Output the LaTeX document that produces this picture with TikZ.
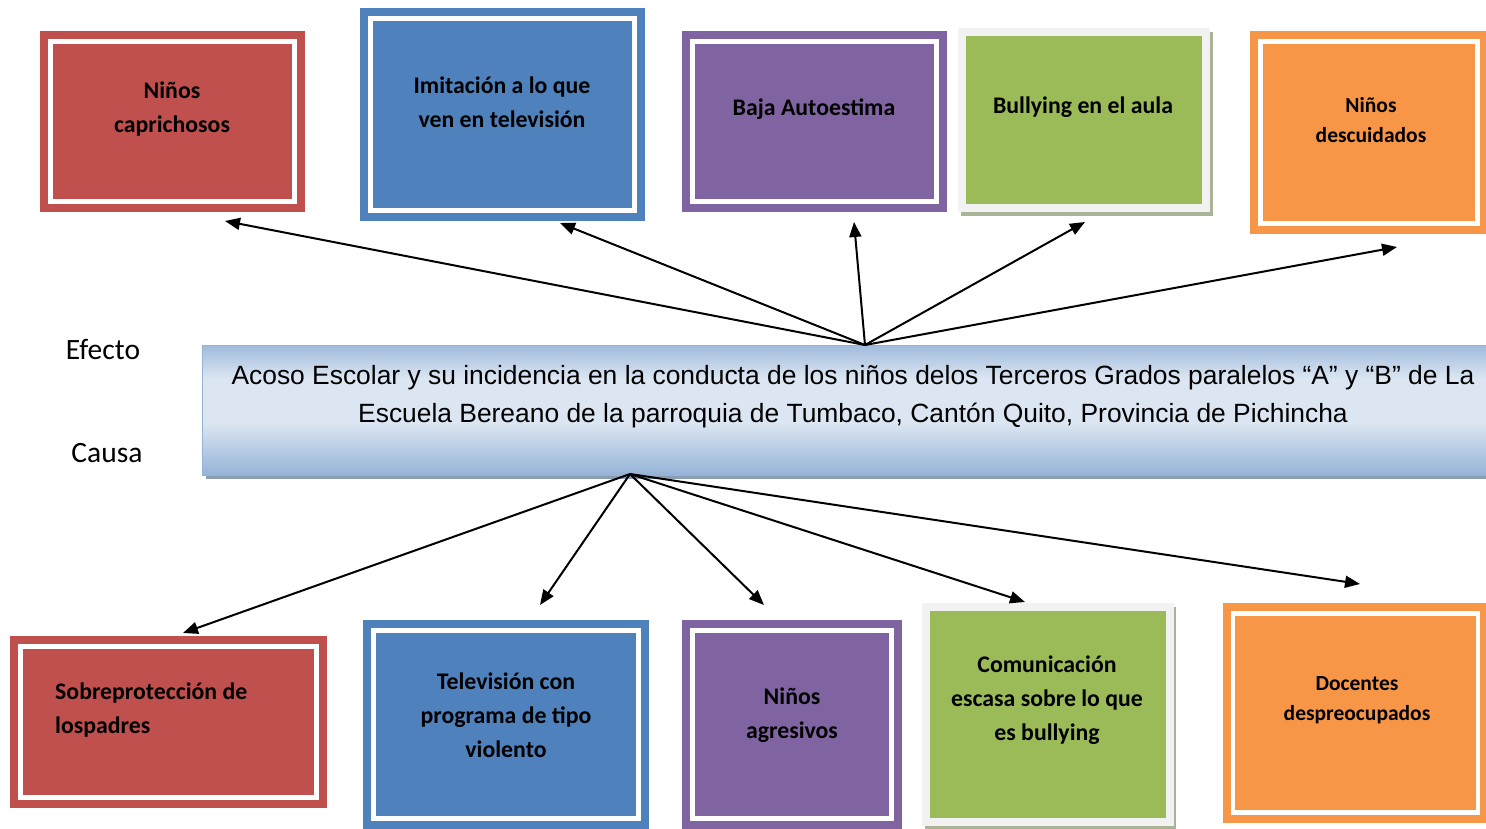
\documentclass[tikz,border=0pt]{standalone}
\usepackage{fontspec}
\setmainfont{Carlito}
\newfontfamily\arialf{Liberation Sans}
\usetikzlibrary{arrows.meta,calc}
\definecolor{cRed}{HTML}{C0504D}
\definecolor{cBlue}{HTML}{4F81BD}
\definecolor{cPurple}{HTML}{8064A2}
\definecolor{cGreen}{HTML}{9BBB59}
\definecolor{cOrange}{HTML}{F79646}
\definecolor{cGrayBand}{HTML}{F2F2F2}
\definecolor{cShadow}{HTML}{A9B497}
\definecolor{bDark}{HTML}{95B3D7}
\definecolor{bLight}{HTML}{DCE6F2}
\definecolor{bShadow}{HTML}{8C9DB3}
\pgfdeclareverticalshading{bannershade}{100bp}{color(0bp)=(bDark); color(25bp)=(bDark); color(45bp)=(bLight); color(62bp)=(bLight); color(75bp)=(bDark!85!bLight); color(100bp)=(bDark!85!bLight)}
\tikzset{
  dblbox/.style={rectangle, inner sep=0pt, fill=#1, draw=white, line width=4.5pt,
    preaction={draw=#1, line width=21pt}},
  grnbox/.style={rectangle, inner sep=0pt, fill=cGreen, draw=none,
    preaction={draw=cGrayBand, line width=16pt}},
  btxt/.style={font=\bfseries\fontsize{23.8}{34}\selectfont, align=center, inner sep=0pt},
  stxt/.style={font=\bfseries\fontsize{21.5}{30}\selectfont, align=center, inner sep=0pt},
  arr/.style={line width=2pt, -{Triangle[length=15pt,width=12pt]}},
}
\begin{document}
\begin{tikzpicture}[x=1pt,y=-1pt]
\useasboundingbox (0,0) rectangle (1486,829);
% ---- top boxes ----
\node[dblbox=cRed, minimum width=244pt, minimum height=160pt] (r1) at (172.5,121.5) {};
\node[dblbox=cBlue, minimum width=264pt, minimum height=192pt] (b1) at (502.5,114.5) {};
\node[dblbox=cPurple, minimum width=244pt, minimum height=160pt] (p1) at (814.5,121.5) {};
\fill[cShadow] (961,32) rectangle (1213,216);
\node[grnbox, minimum width=236pt, minimum height=168pt] (g1) at (1084,120) {};
\node[dblbox=cOrange, minimum width=217pt, minimum height=182pt] (o1) at (1369,132.5) {};
\node[btxt] (tr1) at (172,109) {Niños\\caprichosos};
\node[btxt] (tb1) at (502,102.5) {Imitación a lo que\\ven en televisión};
\node[btxt] (tp1) at (814,109) {Baja Autoestima};
\node[btxt] (tg1) at (1083,107) {Bullying en el aula};
\node[stxt] (to1) at (1371,120) {Niños\\descuidados};
% ---- banner ----
\fill[bShadow] (206,349) rectangle (1500,479);
\path[shading=bannershade, draw=bDark, line width=0.8pt] (202,345) rectangle (1500,475);
\coordinate (hubT) at (865,345);
\coordinate (hubB) at (630,474);
\node[font=\arialf\fontsize{26.4}{38}\selectfont, align=center, inner sep=0pt] (title) at (853,397)
  {Acoso Escolar y su incidencia en la conducta de los niños delos Terceros Grados paralelos “A” y “B” de La\\Escuela Bereano de la parroquia de Tumbaco, Cantón Quito, Provincia de Pichincha};
\node[font=\fontsize{29.5}{34}\selectfont, inner sep=0pt] (efecto) at (103,349) {Efecto};
\node[font=\fontsize{29.5}{34}\selectfont, inner sep=0pt] (causa) at (107,453) {Causa};
% ---- bottom boxes ----
\node[dblbox=cRed, minimum width=296pt, minimum height=151pt] (r2) at (168.5,722) {};
\node[dblbox=cBlue, minimum width=265pt, minimum height=188pt] (b2) at (506,724.5) {};
\node[dblbox=cPurple, minimum width=199pt, minimum height=188pt] (p2) at (792,724.5) {};
\fill[cShadow] (925,607) rectangle (1176,829);
\node[grnbox, minimum width=236pt, minimum height=207pt] (g2) at (1048,714.5) {};
\node[dblbox=cOrange, minimum width=245pt, minimum height=199pt] (o2) at (1355.5,713) {};
\node[btxt, align=left, anchor=west] (tr2) at (55,710) {Sobreprotección de\\lospadres};
\node[btxt] (tb2) at (506,715) {Televisión con\\programa de tipo\\violento};
\node[btxt] (tp2) at (792,715) {Niños\\agresivos};
\node[btxt] (tg2) at (1047,700.5) {Comunicación\\escasa sobre lo que\\es bullying};
\node[stxt] (to2) at (1357,700.5) {Docentes\\despreocupados};
% ---- arrow tips ----
\coordinate (e1) at (225,221);
\coordinate (e2) at (560,223);
\coordinate (e3) at (854,222);
\coordinate (e4) at (1085,222);
\coordinate (e5) at (1397,247);
\coordinate (c1) at (183,633);
\coordinate (c2) at (540,605);
\coordinate (c3) at (764,605);
\coordinate (c4) at (1025,602);
\coordinate (c5) at (1360,584);
\foreach \t in {e1,e2,e3,e4,e5} \draw[arr] (hubT) -- (\t);
\foreach \t in {c1,c2,c3,c4,c5} \draw[arr] (hubB) -- (\t);
\end{tikzpicture}
\end{document}
